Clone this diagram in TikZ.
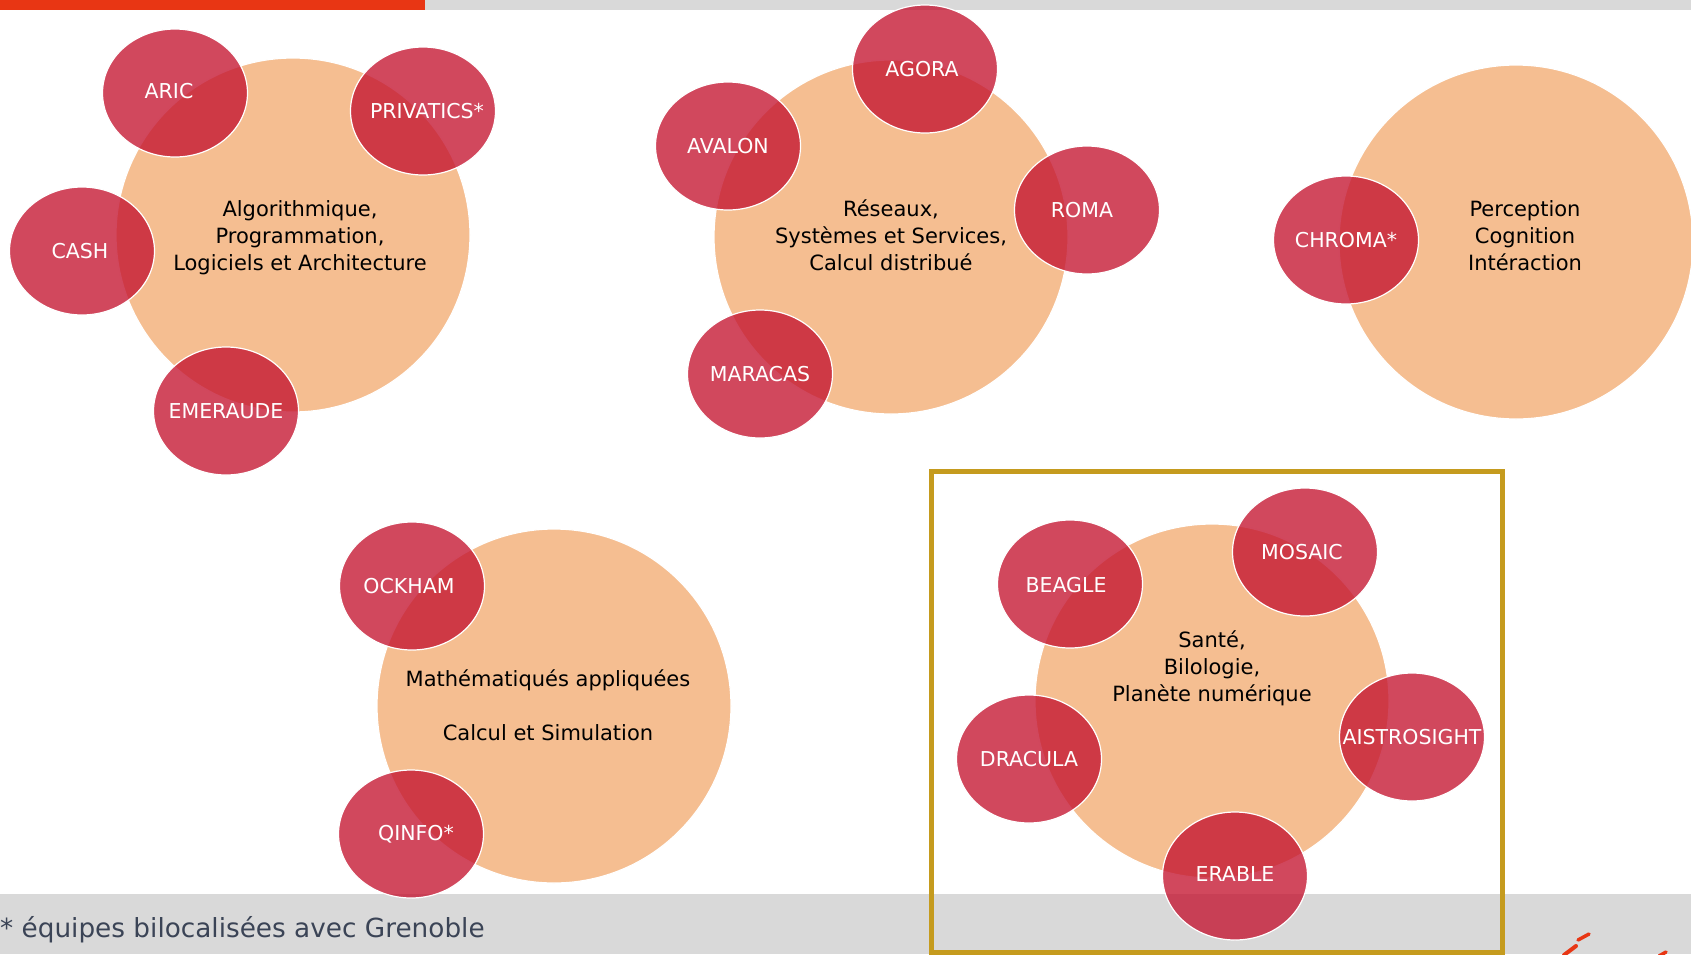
\documentclass[tikz,border=0pt]{standalone}
\usepackage{fontspec}
\setmainfont{DejaVu Sans}
\usetikzlibrary{shapes.geometric}
\definecolor{barred}{RGB}{232,54,20}
\definecolor{bargray}{RGB}{217,217,217}
\definecolor{peach}{RGB}{245,190,145}
\definecolor{crimson}{RGB}{196,20,48}
\definecolor{goldline}{RGB}{197,155,30}
\definecolor{foot}{RGB}{59,68,86}
\begin{document}
\begin{tikzpicture}[x=1pt,y=-1pt,
  theme/.style={circle, fill=peach, draw=white, line width=1.2pt, minimum size=354pt, inner sep=0pt},
  team/.style={ellipse, fill=crimson, fill opacity=0.78, draw=white, draw opacity=1, line width=1.2pt, minimum width=145pt, minimum height=128pt, inner sep=0pt},
  teamtext/.style={text=white, inner sep=0pt, font=\fontsize{20.5}{24}\selectfont},
  themetext/.style={align=center, inner sep=0pt, text=black, font=\fontsize{21}{27}\selectfont}]
\useasboundingbox (0,0) rectangle (1691,954);
% top bar and footer band
\fill[bargray] (0,0) rectangle (1691,10);
\fill[barred] (0,0) rectangle (425,10);
\fill[bargray] (0,894) rectangle (1691,954);
% theme circles
\node[theme] (t1) at (293,235) {};
\node[theme] (t2) at (891,237) {};
\node[theme] (t3) at (1516,242) {};
\node[theme] (t4) at (554,706) {};
\node[theme] (t5) at (1212,701) {};
% theme texts
\node[themetext] (t1txt) at (300,238) {Algorithmique,\\Programmation,\\Logiciels et Architecture};
\node[themetext] (t2txt) at (891,235) {Réseaux,\\Systèmes et Services,\\Calcul distribué};
\node[themetext] (t3txt) at (1525,236) {Perception\\Cognition\\Intéraction};
\node[themetext] (t4txt) at (548,705) {Mathématiqués appliquées\\[27pt]Calcul et Simulation};
\node[themetext] (t5txt) at (1212,668) {Santé,\\Bilologie,\\Planète numérique};
% team ellipses
\node[team] (aric) at (175,93) {};
\node[team] (privatics) at (423,111) {};
\node[team] (cash) at (82,251) {};
\node[team] (emeraude) at (226,411) {};
\node[team] (agora) at (925,69) {};
\node[team] (avalon) at (728,146) {};
\node[team] (roma) at (1087,210) {};
\node[team] (maracas) at (760,374) {};
\node[team] (chroma) at (1346,240) {};
\node[team] (ockham) at (412,586) {};
\node[team] (qinfo) at (411,834) {};
\node[team] (beagle) at (1070,584) {};
\node[team] (mosaic) at (1305,552) {};
\node[team] (dracula) at (1029,759) {};
\node[team] (aistrosight) at (1412,737) {};
\node[team] (erable) at (1235,876) {};
% team labels
\node[teamtext] at ([xshift=-6pt,yshift=2pt]aric) {ARIC};
\node[teamtext] at ([xshift=4pt]privatics) {PRIVATICS*};
\node[teamtext] at ([xshift=-2pt]cash) {CASH};
\node[teamtext] at (emeraude) {EMERAUDE};
\node[teamtext] at ([xshift=-3pt]agora) {AGORA};
\node[teamtext] at (avalon) {AVALON};
\node[teamtext] at ([xshift=-5pt]roma) {ROMA};
\node[teamtext] at (maracas) {MARACAS};
\node[teamtext] at (chroma) {CHROMA*};
\node[teamtext] at ([xshift=-3pt]ockham) {OCKHAM};
\node[teamtext] at ([xshift=5pt]qinfo) {QINFO*};
\node[teamtext] at ([xshift=-4pt,yshift=-1pt]beagle) {BEAGLE};
\node[teamtext] at ([xshift=-3pt]mosaic) {MOSAIC};
\node[teamtext] at (dracula) {DRACULA};
\node[teamtext] at (aistrosight) {AISTROSIGHT};
\node[teamtext] at ([yshift=2pt]erable) {ERABLE};
% highlight box
\draw[goldline, line width=5pt] (931,471) rectangle (1502,952);
% footer text
\node[anchor=west, text=foot, inner sep=0pt, font=\fontsize{26.3}{30}\selectfont] (note) at (0,930) {* équipes bilocalisées avec Grenoble};
% logo fragment
\draw[barred, line width=3.5pt, line cap=round] (1578,940) -- (1589,934);
\draw[barred, line width=4pt, line cap=round] (1564,955) -- (1576,946);
\draw[barred, line width=3.5pt, line cap=round] (1659,956) -- (1666,952);
\end{tikzpicture}
\end{document}
